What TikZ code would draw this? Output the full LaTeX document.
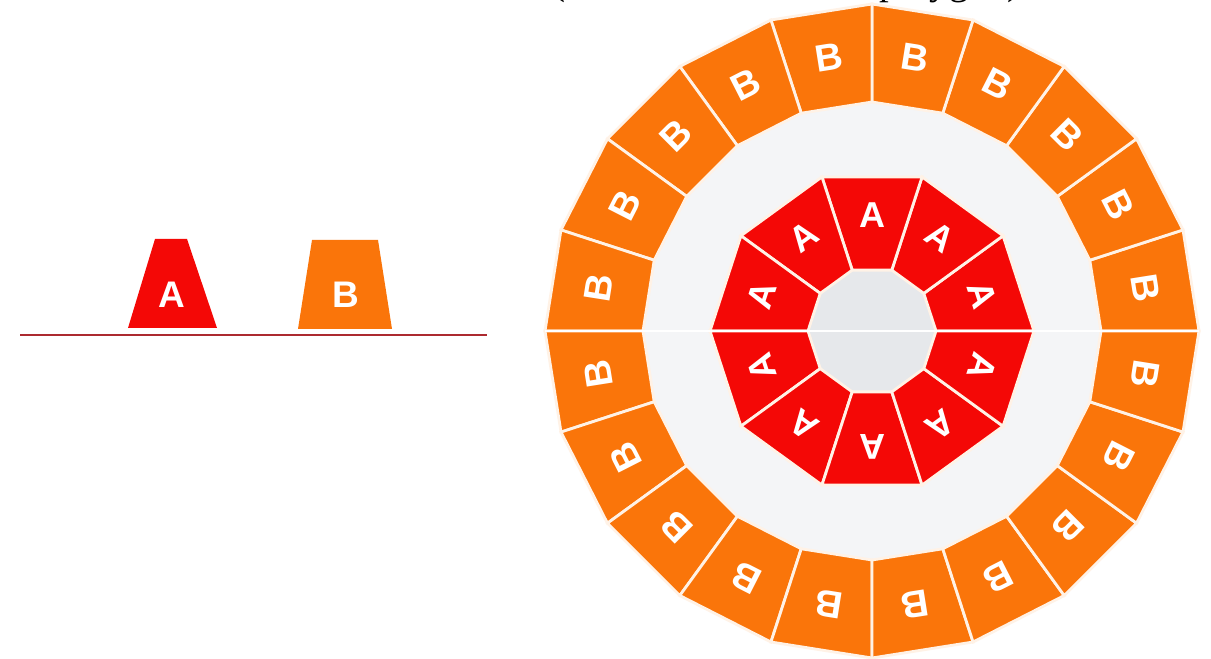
\documentclass[tikz,border=0pt]{standalone}
\usepackage{fontspec}
\setmainfont{Liberation Serif}
\newfontfamily\letterfont{Liberation Sans}
\definecolor{pieceRed}{RGB}{244,8,6}
\definecolor{pieceOrange}{RGB}{250,117,10}
\definecolor{gapCream}{RGB}{255,242,230}
\definecolor{groundLine}{RGB}{172,42,48}
\definecolor{innerGray}{RGB}{244,245,247}
\definecolor{holeGray}{RGB}{230,232,235}
\begin{document}
\begin{tikzpicture}[x=1pt,y=1pt,
  redpiece/.style={fill=pieceRed,draw=gapCream,line width=2.8pt},
  orangepiece/.style={fill=pieceOrange,draw=gapCream,line width=2.8pt},
  letter/.style={text=white,inner sep=0pt,font=\letterfont\bfseries\fontsize{37}{37}\selectfont},
  ringletter/.style={letter,font=\letterfont\bfseries\fontsize{38}{38}\selectfont},
  decletter/.style={letter,font=\letterfont\bfseries\fontsize{36}{36}\selectfont}]
\useasboundingbox (0,0) rectangle (1211,659);
\fill[white] (0,0) rectangle (1211,659);
% caption, cut by the top edge
\begin{scope}
\clip (0,0) rectangle (1211,659);
\node[anchor=base west,inner sep=0pt,font=\fontsize{39}{40}\selectfont] (caption) at (552,664) {(\hspace{305pt},polygon)};
\end{scope}
% left: the two single pieces on a ground line
\coordinate (groundL) at (20,324);
\coordinate (groundR) at (487,324);
\draw[groundLine,line width=2.4pt] (groundL) -- (groundR);
\fill[pieceRed] (128,331) -- (217,331) -- (187,420) -- (155,420) -- cycle;
\node[letter] (leftA) at (172,364) {A};
\fill[pieceOrange] (298,330) -- (392,330) -- (378,419) -- (312,419) -- cycle;
\node[letter] (leftB) at (346,364) {B};
% right: ring of B and decagon of A
\begin{scope}[shift={(872,328)}]
\fill[innerGray] (0,0) circle (229);
\foreach \k in {0,...,19} {
  \pgfmathsetmacro\a{18*\k}
  \pgfmathsetmacro\b{18*\k+18}
  \pgfmathsetmacro\m{18*\k+9}
  \filldraw[orangepiece] (\a:229) -- (\b:229) -- (\b:327) -- (\a:327) -- cycle;
  \node[ringletter,rotate={\m-90}] (ringB\k) at (\m:277) {B};
}
\fill[holeGray] (0:64) -- (36:64) -- (72:64) -- (108:64) -- (144:64) -- (180:64)
  -- (216:64) -- (252:64) -- (288:64) -- (324:64) -- cycle;
\foreach \k in {0,...,9} {
  \pgfmathsetmacro\a{36*\k}
  \pgfmathsetmacro\b{36*\k+36}
  \pgfmathsetmacro\m{36*\k+18}
  \filldraw[redpiece] (\a:64) -- (\b:64) -- (\b:162) -- (\a:162) -- cycle;
  \node[decletter,rotate={\m-90}] (decA\k) at (\m:116) {A};
}
\end{scope}
\coordinate (seamL) at (545,328);
\coordinate (seamR) at (1199,328);
\draw[white,line width=2.5pt] (seamL) -- (seamR);
\end{tikzpicture}
\end{document}
